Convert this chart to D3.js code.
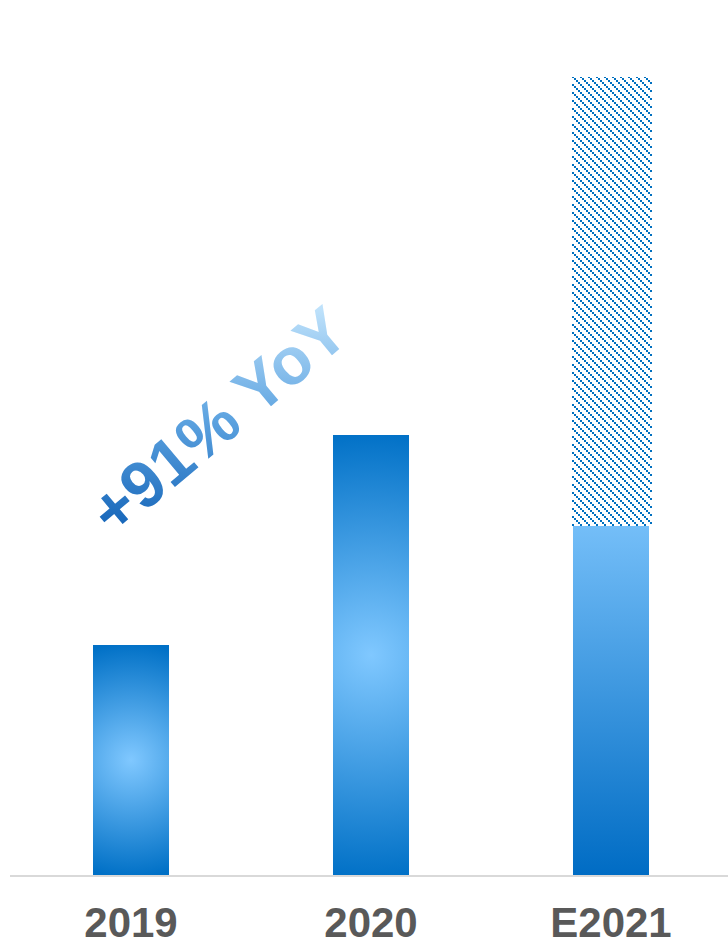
<!DOCTYPE html>
<html>
<head>
<meta charset="utf-8">
<script src="https://cdn.jsdelivr.net/npm/d3@7"></script>
<style>
  html, body { margin: 0; padding: 0; background: #ffffff; }
  svg { display: block; }
</style>
</head>
<body>
<script>
// ---- data ----
const categories = ["2019", "2020", "E2021"];
const actualValues = [2.30, 4.40, 3.49];      // solid bars
const estimateHigh = [null, null, 7.98];      // top of hatched range (E2021 only)
const annotation = "+91% YoY";
const yDomainMax = 8.75;

// ---- layout ----
const W = 728, H = 946;
const svg = d3.select("body").append("svg").attr("width", W).attr("height", H);
const defs = svg.append("defs");

const x = d3.scaleBand().domain(categories).range([11, 731])
  .paddingInner(0.6833).paddingOuter(0.34167);
const y = d3.scaleLinear().domain([0, yDomainMax]).range([875, 0]);

// hatch pattern
const pat = defs.append("pattern").attr("id", "hatch")
  .attr("patternUnits", "userSpaceOnUse").attr("width", 8).attr("height", 8);
[0, 2, 4, 6].forEach(o => pat.append("rect").attr("x", o).attr("y", o)
  .attr("width", 2).attr("height", 2).attr("fill", "#0070c0"));

// gradients for bars
categories.forEach((c, i) => {
  const x0 = x(c), bw = x.bandwidth();
  const top = y(actualValues[i]), bot = y(0);
  if (estimateHigh[i] == null) {
    const g = defs.append("radialGradient").attr("id", "grad" + i)
      .attr("gradientUnits", "userSpaceOnUse")
      .attr("cx", x0 + bw / 2).attr("cy", (top + bot) / 2)
      .attr("r", (bot - top) / 2 * 1.02);
    g.append("stop").attr("offset", 0).attr("stop-color", "#80c8ff");
    g.append("stop").attr("offset", 1).attr("stop-color", "#0070c6");
  } else {
    const g = defs.append("linearGradient").attr("id", "grad" + i)
      .attr("x1", 0).attr("y1", 0).attr("x2", 0).attr("y2", 1);
    g.append("stop").attr("offset", 0).attr("stop-color", "#74bef8");
    g.append("stop").attr("offset", 1).attr("stop-color", "#006cc4");
  }
});

// hatched estimate range
svg.selectAll("rect.est").data(categories.filter((c, i) => estimateHigh[i] != null))
  .join("rect").attr("class", "est")
  .attr("x", c => x(c) - 1)
  .attr("width", x.bandwidth() + 4)
  .attr("y", c => y(estimateHigh[categories.indexOf(c)]))
  .attr("height", c => y(actualValues[categories.indexOf(c)]) - y(estimateHigh[categories.indexOf(c)]))
  .attr("fill", "url(#hatch)");

// solid bars
svg.selectAll("rect.bar").data(categories).join("rect").attr("class", "bar")
  .attr("x", c => x(c))
  .attr("width", x.bandwidth())
  .attr("y", (c, i) => y(actualValues[i]))
  .attr("height", (c, i) => y(0) - y(actualValues[i]))
  .attr("fill", (c, i) => `url(#grad${i})`);

// baseline
svg.append("line").attr("x1", 10).attr("x2", W).attr("y1", y(0) + 1).attr("y2", y(0) + 1)
  .attr("stroke", "#d9d9d9").attr("stroke-width", 2);

// x axis labels
const xAxis = d3.axisBottom(x).tickSize(0).tickPadding(0);
const ax = svg.append("g").attr("transform", `translate(0,${y(0)})`).call(xAxis);
ax.select(".domain").remove();
ax.selectAll("text")
  .attr("y", 62).attr("dy", null)
  .attr("font-family", "'Liberation Sans', Arial, sans-serif")
  .attr("font-weight", "bold").attr("font-size", 42)
  .attr("fill", "#595959");

// annotation with gradient
const tx = 114, ty = 538, ang = -40;
const tg = defs.append("linearGradient").attr("id", "tgrad")
  .attr("gradientUnits", "userSpaceOnUse")
  .attr("gradientTransform", `rotate(${-ang})`)
  .attr("x1", 0).attr("y1", 530 - ty).attr("x2", 0).attr("y2", 308 - ty);
tg.append("stop").attr("offset", 0).attr("stop-color", "#1464b8");
tg.append("stop").attr("offset", 0.5).attr("stop-color", "#5da3e0");
tg.append("stop").attr("offset", 1).attr("stop-color", "#bfe2fb");

svg.append("text")
  .attr("transform", `translate(${tx},${ty}) rotate(${ang})`)
  .attr("font-family", "'Liberation Sans', Arial, sans-serif")
  .attr("font-weight", "bold").attr("font-size", 66)
  .attr("fill", "url(#tgrad)")
  .text(annotation);
</script>
</body>
</html>
